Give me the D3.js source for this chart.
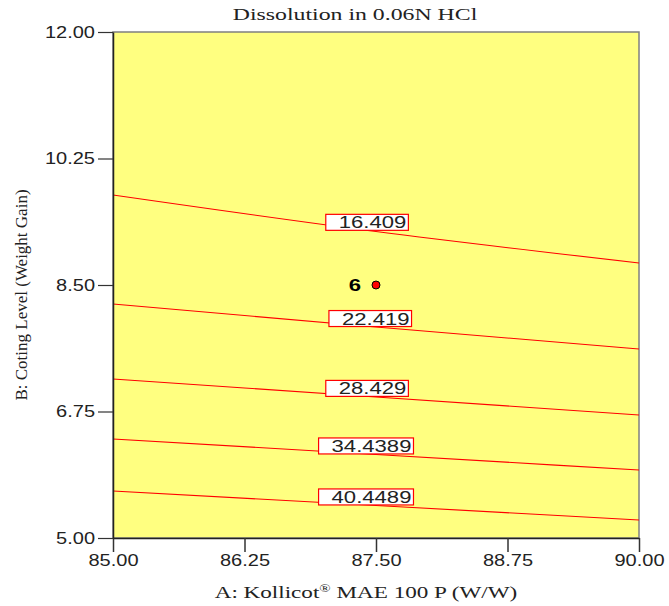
<!DOCTYPE html>
<html>
<head>
<meta charset="utf-8">
<script src="https://cdn.jsdelivr.net/npm/d3@7"></script>
<style>
  body { margin: 0; background: #fff; }
  text { font-family: Arial, "Liberation Sans", sans-serif; }
  .serif { font-family: "Times New Roman", "Liberation Serif", serif; }
</style>
</head>
<body>
<div id="chart"></div>
<script>
// axis ticks
const xTicks = [85, 86.25, 87.5, 88.75, 90];
const yTicks = [5, 6.75, 8.5, 10.25, 12];

// contour lines: level labels, x samples and y values per line
const levels = ["16.409", "22.419", "28.429", "34.4389", "40.4489"];
const contourX = [85, 87.5, 90];
const contourY = [
  [9.745, 9.24, 8.805],
  [8.237, 7.919, 7.615],
  [7.200, 6.951, 6.702],
  [6.370, 6.155, 5.941],
  [5.651, 5.450, 5.250]
];
const labelX = [87.42, 87.45, 87.42, 87.41, 87.41];

// design point
const pointA = [87.5];
const pointB = [8.5];
const pointLabel = ["6"];

const margin = {top: 32, right: 30, bottom: 68, left: 113},
    width = 669 - margin.left - margin.right,
    height = 606 - margin.top - margin.bottom;

// the picture is a bit stretched sideways, so text gets widened too
const sx = 1.3;

const svg = d3.select("#chart")
  .append("svg")
    .attr("width", 669)
    .attr("height", 606)
  .append("g")
    .attr("transform", `translate(${margin.left},${margin.top})`);

const x = d3.scaleLinear().domain([85, 90]).range([0, width]);
const y = d3.scaleLinear().domain([5, 12]).range([height, 0]);

// plot background
svg.append("rect")
  .attr("width", width)
  .attr("height", height)
  .attr("fill", "#ffff80")
  .attr("stroke", "#808080")
  .attr("stroke-width", 1.5);

// contour lines
const line = d3.line()
  .x(d => x(d[0]))
  .y(d => y(d[1]))
  .curve(d3.curveNatural);

contourY.forEach((ys, i) => {
  const pts = contourX.map((cx, j) => [cx, ys[j]]);
  svg.append("path")
    .datum(pts)
    .attr("d", line)
    .attr("fill", "none")
    .attr("stroke", "#ff0000")
    .attr("stroke-width", 1.1);
});

// contour labels
levels.forEach((lv, i) => {
  const pts = contourX.map((cx, j) => [cx, contourY[i][j]]);
  // y of line at label x (linear between samples)
  const lx = labelX[i];
  const seg = lx <= contourX[1] ? 0 : 1;
  const t = (lx - contourX[seg]) / (contourX[seg + 1] - contourX[seg]);
  const ly = pts[seg][1] + t * (pts[seg + 1][1] - pts[seg][1]);
  const px = x(lx), py = y(ly);
  const g = svg.append("g");
  const box = g.append("rect")
    .attr("fill", "#fff")
    .attr("stroke", "#ff0000")
    .attr("stroke-width", 1.2);
  const txt = g.append("text")
    .attr("font-size", 17)
    .attr("fill", "#222")
    .text(lv);
  const w = txt.node().getComputedTextLength() * sx;
  txt.attr("transform", `translate(${px - w / 2 + 5},${py - 2}) scale(${sx},1)`);
  box.attr("x", px - w / 2 - 8)
    .attr("y", py - 16)
    .attr("width", w + 15)
    .attr("height", 16);
});

// x axis
const xAxis = svg.append("g")
  .attr("transform", `translate(0,${height})`)
  .call(d3.axisBottom(x).tickValues(xTicks).tickFormat(d3.format(".2f")).tickSize(14).tickSizeOuter(0));
xAxis.select(".domain").attr("stroke", "#222").attr("stroke-width", 1.5);
xAxis.selectAll(".tick line").attr("stroke", "#333").attr("stroke-width", 1.5);
xAxis.selectAll("text")
  .attr("font-size", 16)
  .attr("font-family", "Arial, 'Liberation Sans', sans-serif")
  .attr("fill", "#222")
  .attr("y", 14)
  .attr("dy", "0.85em")
  .attr("transform", "scale(1.25,1)");

// y axis
const yAxis = svg.append("g")
  .call(d3.axisLeft(y).tickValues(yTicks).tickFormat(d3.format(".2f")).tickSize(15).tickSizeOuter(0));
yAxis.select(".domain").attr("stroke", "#222").attr("stroke-width", 1.5);
yAxis.selectAll(".tick line").attr("stroke", "#333").attr("stroke-width", 1.2);
yAxis.selectAll("text")
  .attr("font-size", 16)
  .attr("font-family", "Arial, 'Liberation Sans', sans-serif")
  .attr("fill", "#222")
  .attr("x", -18 / 1.25)
  .attr("transform", "scale(1.25,1)");

// design point
svg.selectAll(".pt")
  .data(pointA)
  .join("circle")
    .attr("cx", d => x(d))
    .attr("cy", (d, i) => y(pointB[i]))
    .attr("r", 4)
    .attr("fill", "#ff0000")
    .attr("stroke", "#000")
    .attr("stroke-width", 1);
svg.selectAll(".ptlab")
  .data(pointA)
  .join("text")
    .attr("transform", (d, i) => `translate(${x(d) - 21},${y(pointB[i])}) scale(${sx},1)`)
    .attr("dy", "0.35em")
    .attr("text-anchor", "middle")
    .attr("font-size", 17)
    .attr("font-weight", "bold")
    .attr("fill", "#000")
    .text((d, i) => pointLabel[i]);

// title
svg.append("text")
  .attr("class", "serif")
  .attr("transform", `translate(242,-12) scale(1.4,1)`)
  .attr("text-anchor", "middle")
  .attr("font-size", 17)
  .attr("fill", "#222")
  .text("Dissolution in 0.06N HCl");

// x axis title
const xt = svg.append("text")
  .attr("class", "serif")
  .attr("transform", `translate(${width / 2 - 10},${height + 60}) scale(1.36,1)`)
  .attr("text-anchor", "middle")
  .attr("font-size", 17)
  .attr("fill", "#222");
xt.append("tspan").text("A: Kollicot");
xt.append("tspan").attr("font-size", 11).attr("dy", -6).text("®");
xt.append("tspan").attr("dy", 6).text(" MAE 100 P (W/W)");

// y axis title
svg.append("text")
  .attr("class", "serif")
  .attr("transform", `translate(${-86},${height / 2 + 10}) rotate(-90)`)
  .attr("text-anchor", "middle")
  .attr("font-size", 17)
  .attr("fill", "#222")
  .text("B: Coting Level (Weight Gain)");
</script>
</body>
</html>
